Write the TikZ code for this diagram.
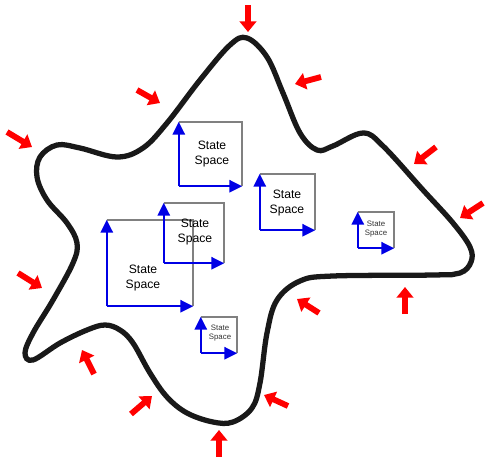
\documentclass[tikz,border=0pt]{standalone}
\usepackage{fontspec}
\setmainfont{Liberation Sans}
\usetikzlibrary{arrows.meta}

\begin{document}
\begin{tikzpicture}[
  x=0.03cm, y=-0.03cm,
  blob/.style={line width=4.5pt, black!90},
  push/.style={-{Triangle[length=9pt,width=14pt]}, line width=5pt, red},
  ssbox/.style={rectangle, inner sep=0pt},
  frame/.style={draw=gray, line width=1.7pt},
  axis/.style={-{Triangle[length=11pt,width=10.5pt]}, line width=1.8pt, blue!90!black},
  bigtext/.style={align=center, font=\fontsize{10.4}{12.8}\selectfont},
  smalltext/.style={align=center, font=\fontsize{6.7}{8}\selectfont, gray!40!black}
]
\useasboundingbox (0,0) rectangle (491,462);

% the outline
\draw[blob] plot[smooth cycle, tension=0.6] coordinates {
  (247,38) (267,57) (283,93) (300,133) (317,150) (333,146) (363,133)
  (383,146) (423,190) (453,223) (470,247) (471,262) (460,273) (433,275)
  (333,276) (300,281) (277,300) (267,333) (260,383) (252,408) (233,422)
  (213,422) (187,413) (167,397) (150,373) (133,343) (120,330) (105,325)
  (87,330) (60,343) (33,360) (25,353) (33,333) (53,300) (73,263) (77,243)
  (67,223) (47,200) (37,177) (40,157) (57,145) (80,148) (117,157)
  (143,148) (167,123) (200,80) (230,45)};

% red pushes from outside
\foreach \xa/\ya/\xb/\yb in {248/5/248/32, 321/77/295/84, 137/90/160/103, 7/132/32/147,
                   436/147/414/164, 483/203/460/218, 18/273/42/288, 405/314/405/287,
                   319/313/297/299, 94/374/82/350, 288/406/264/395, 131/414/152/396,
                   219/457/219/430}
  \draw[push] (\xa,\ya) -- (\xb,\yb);

% state spaces
\node[ssbox, minimum width=2.58cm, minimum height=2.58cm] (boxD) at (150,263) {};
\node[ssbox, minimum width=1.8cm, minimum height=1.8cm] (boxC) at (194,233) {};
\node[ssbox, minimum width=1.89cm, minimum height=1.92cm] (boxA) at (210.5,154) {};
\node[ssbox, minimum width=1.65cm, minimum height=1.68cm] (boxB) at (287.5,202) {};
\node[ssbox, minimum width=1.08cm, minimum height=1.08cm] (boxE) at (376,230) {};
\node[ssbox, minimum width=1.08cm, minimum height=1.08cm] (boxF) at (219,335) {};

\foreach \b in {boxD,boxC,boxA,boxB,boxE,boxF} {
  \draw[frame] (\b.north west) -- (\b.north east) -- (\b.south east);
  \draw[axis] (\b.south west) -- (\b.north west);
  \draw[axis] (\b.south west) -- (\b.south east);
}

\node[bigtext] (txtD) at (143,278) {State\\Space};
\node[bigtext] (txtC) at (195,232) {State\\Space};
\node[bigtext] (txtA) at (212,154) {State\\Space};
\node[bigtext] (txtB) at (287,203) {State\\Space};
\node[smalltext] (txtE) at (376,229) {State\\Space};
\node[smalltext] (txtF) at (220,333) {State\\Space};

\end{tikzpicture}
\end{document}
